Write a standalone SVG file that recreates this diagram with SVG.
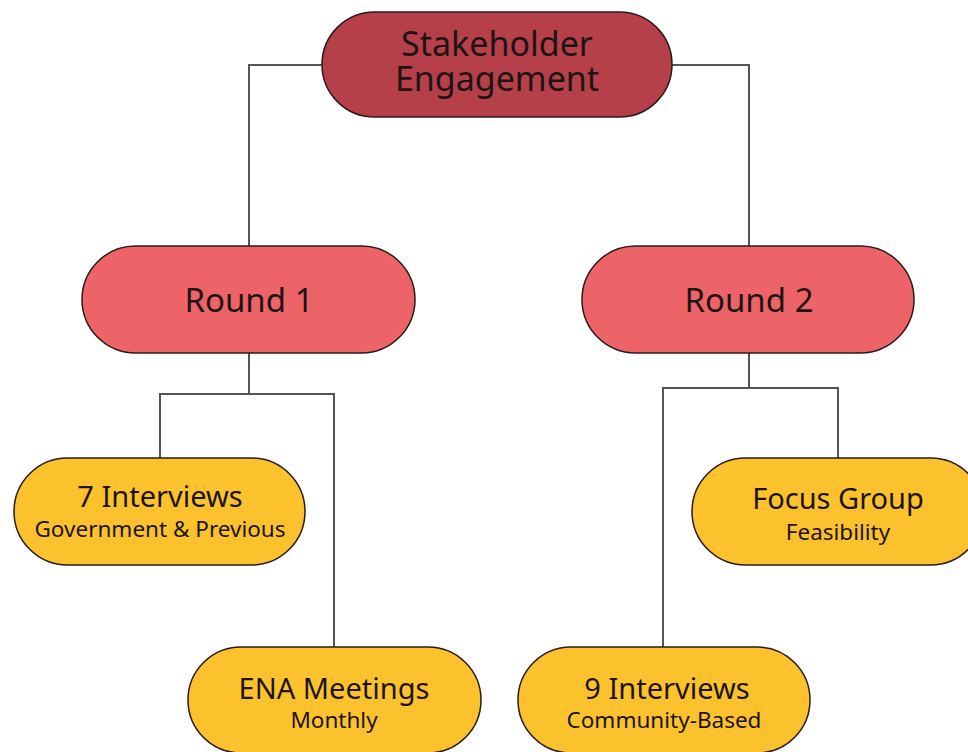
<svg xmlns="http://www.w3.org/2000/svg" width="968" height="752" viewBox="0 0 968 752">
<style>
.c{fill:none;stroke:#555;stroke-width:2}
.n{stroke:#2a1a1a;stroke-width:1.5}
.top{fill:#b5404a}
.r{fill:#ec6468}
.y{fill:#fbc22e}
text{font-family:"Noto Sans","Open Sans",sans-serif;fill:#1e1414;text-anchor:middle}
.t0{font-size:34px}
.t1{font-size:33px}
.t2{font-size:29px}
.t3{font-size:22.5px}
</style>
<rect width="968" height="752" fill="#fff"/>
<g id="connectors">
<path class="c" d="M322 65H249V246"/>
<path class="c" d="M672 65H749V246"/>
<path class="c" d="M249 353V394M160 458V394H334V647"/>
<path class="c" d="M749 353V388M838 458V388H663V647"/>
</g>
<g id="stakeholder">
<rect class="n top" x="322" y="12" width="350" height="105" rx="52.5"/>
<text class="t0" x="497" y="56">Stakeholder<tspan x="497" dy="35">Engagement</tspan></text>
</g>
<g id="round1">
<rect class="n r" x="82" y="246" width="333" height="107" rx="53.5"/>
<text class="t1" x="249" y="312">Round 1</text>
</g>
<g id="round2">
<rect class="n r" x="582" y="246" width="332" height="107" rx="53.5"/>
<text class="t1" x="749" y="312">Round 2</text>
</g>
<g id="interviews7">
<rect class="n y" x="14" y="458" width="291" height="107" rx="53.5"/>
<text class="t2" x="160" y="507">7 Interviews</text>
<text class="t3" x="160" y="537">Government &amp; Previous</text>
</g>
<g id="focusgroup">
<rect class="n y" x="692" y="458" width="292" height="107" rx="53.5"/>
<text class="t2" x="838" y="509">Focus Group</text>
<text class="t3" x="838" y="540">Feasibility</text>
</g>
<g id="ena">
<rect class="n y" x="188" y="647" width="293" height="106" rx="53"/>
<text class="t2" x="334" y="699">ENA Meetings</text>
<text class="t3" x="334" y="728">Monthly</text>
</g>
<g id="interviews9">
<rect class="n y" x="518" y="647" width="292" height="106" rx="53"/>
<text class="t2" x="667" y="699">9 Interviews</text>
<text class="t3" x="664" y="728">Community-Based</text>
</g>
</svg>
